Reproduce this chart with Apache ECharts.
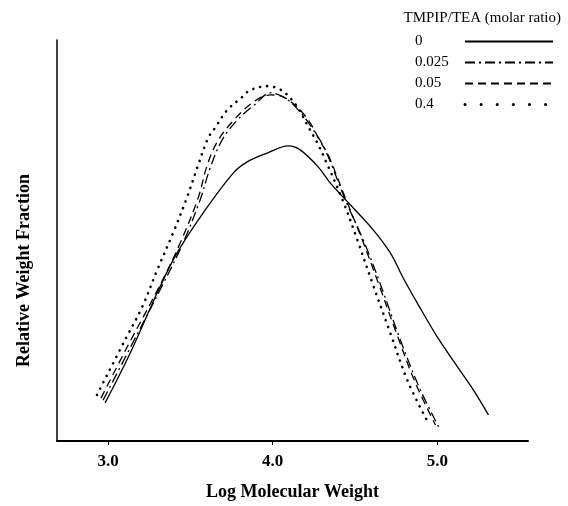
<!DOCTYPE html>
<html>
<head>
<meta charset="utf-8">
<script src="https://cdn.jsdelivr.net/npm/echarts@6/dist/echarts.min.js"></script>
<style>html,body{margin:0;padding:0;background:#fff}#c{width:568px;height:506px}</style>
</head>
<body>
<div id="c"></div>
<script>
const xTicks = [3, 4, 5];
const seriesNames = ['0', '0.025', '0.05', '0.4'];
const s0 = [[2.982,9.5],[3.134,21.9],[3.298,36.9],[3.419,46.9],[3.578,56.9],[3.760,66.8],[3.845,69.6],[3.967,71.8],[4.094,73.6],[4.167,72.6],[4.277,68.3],[4.350,64.3],[4.471,58.9],[4.611,52.6],[4.714,46.9],[4.793,40.6],[4.878,34.4],[5.000,25.9],[5.122,18.5],[5.219,12.7],[5.310,6.5]];
const s025 = [[2.970,10.2],[3.134,23.2],[3.316,37.7],[3.450,48.9],[3.559,60.1],[3.620,68.1],[3.693,75.1],[3.784,80.0],[3.894,84.0],[3.985,86.8],[4.076,85.5],[4.167,82.0],[4.246,77.6],[4.319,72.6],[4.441,60.1],[4.562,48.9],[4.666,37.7],[4.775,25.2],[4.897,12.7],[5.018,2.7]];
const s05 = [[2.957,10.7],[3.122,23.9],[3.316,38.9],[3.438,49.4],[3.547,60.6],[3.602,68.8],[3.663,74.6],[3.754,79.6],[3.881,84.5],[3.985,86.3],[4.064,85.8],[4.155,83.0],[4.228,79.3],[4.289,74.6],[4.337,71.3],[4.441,60.6],[4.544,50.1],[4.641,39.4],[4.751,26.9],[4.866,14.5],[4.988,4.0]];
const s4 = [[2.933,11.5],[3.103,25.2],[3.207,33.4],[3.298,42.6],[3.395,51.9],[3.480,60.8],[3.541,68.1],[3.608,75.6],[3.650,78.1],[3.723,82.5],[3.815,85.8],[3.863,87.5],[3.973,88.5],[4.027,88.0],[4.076,86.8],[4.155,83.0],[4.210,78.8],[4.271,74.3],[4.319,70.1],[4.429,59.6],[4.514,50.1],[4.605,39.4],[4.714,26.9],[4.824,14.5],[4.945,4.5]];

const serif = '"Liberation Serif", "DejaVu Serif", serif';
const chart = echarts.init(document.getElementById('c'), null, {renderer: 'canvas'});
const lineStyles = [
  {color:'#000', width:1.3, type:'solid'},
  {color:'#000', width:1.3, type:[10,4,2,4]},
  {color:'#000', width:1.3, type:[8,5]},
  {color:'#000', width:2.6, type:[0.1,7], cap:'round'}
];
const datas = [s0, s025, s05, s4];
chart.setOption({
  animation: false,
  backgroundColor: '#fff',
  title: {
    text: 'TMPIP/TEA (molar ratio)',
    right: 2, top: 6,
    textStyle: {fontFamily: serif, fontSize: 15, fontWeight: 'normal', color: '#000'}
  },
  legend: {
    orient: 'vertical',
    left: 410, top: 29,
    align: 'right',
    itemWidth: 88, itemHeight: 14, itemGap: 6,
    data: seriesNames.map(n => n === '0.4'
      ? {name: n, lineStyle: {type: [0.1, 16], width: 3, cap: 'round'}}
      : {name: n}),
    formatter: n => '{a|' + n + '}',
    itemStyle: {opacity: 0},
    textStyle: {fontFamily: serif, fontSize: 15, color: '#000',
      rich: {a: {width: 45, align: 'left', fontFamily: serif, fontSize: 15, color: '#000'}}},
    selectedMode: false
  },
  grid: {left: 57, top: 40, right: 40, bottom: 65},
  xAxis: {
    type: 'value', min: 2.69, max: 5.55,
    name: 'Log Molecular Weight', nameLocation: 'middle', nameGap: 42,
    nameTextStyle: {fontFamily: serif, fontSize: 18, fontWeight: 'bold', color: '#000'},
    axisLine: {lineStyle: {color: '#000', width: 2}},
    axisTick: {show: true, length: 4, customValues: xTicks, lineStyle: {color: '#000'}},
    axisLabel: {customValues: xTicks, formatter: v => v.toFixed(1), margin: 12,
      fontFamily: serif, fontSize: 17, fontWeight: 'bold', color: '#000'},
    splitLine: {show: false}
  },
  yAxis: {
    type: 'value', min: 0, max: 100,
    name: 'Relative Weight Fraction', nameLocation: 'middle', nameGap: 24,
    nameTextStyle: {fontFamily: serif, fontSize: 18, fontWeight: 'bold', color: '#000', padding: [0, 0, 0, -60]},
    axisLine: {show: true, lineStyle: {color: '#000', width: 1.5}},
    axisTick: {show: false}, axisLabel: {show: false}, splitLine: {show: false}
  },
  series: seriesNames.map((n, i) => ({
    name: n, type: 'line', data: datas[i], smooth: 0.35, symbol: 'none',
    lineStyle: lineStyles[i], itemStyle: {color: '#000'}
  }))
});
</script>
</body>
</html>
